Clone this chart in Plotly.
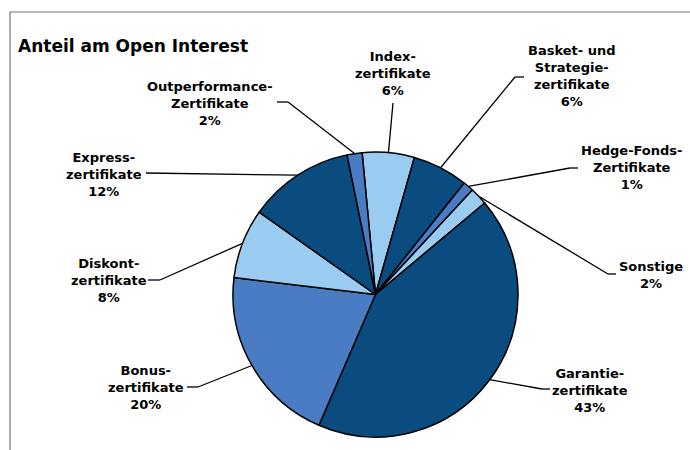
import math
import plotly.graph_objects as go

# ---- data ----
categories = [
    "Index-<br>zertifikate",
    "Basket- und<br>Strategie-<br>zertifikate",
    "Hedge-Fonds-<br>Zertifikate",
    "Sonstige",
    "Garantie-<br>zertifikate",
    "Bonus-<br>zertifikate",
    "Diskont-<br>zertifikate",
    "Express-<br>zertifikate",
    "Outperformance-<br>Zertifikate",
]
shares = [5.9, 6.3, 1.2, 2.0, 42.6, 20.4, 7.9, 12.0, 1.7]
title_text = "Anteil am Open Interest"

# ---- styling / layout constants ----
W, H = 690, 450
DARK, MID, LIGHT = "#0B4C80", "#4A7CC4", "#99CCF0"
colors = [LIGHT, DARK, MID, LIGHT, DARK, MID, LIGHT, DARK, MID]
CX, CY, R = 375.5, 294.5, 142.5          # pie centre / radius in pixels
ROTATION = -5.4
FONT = "DejaVu Sans"

# label block centres (px) and leader start / elbow points (px)
label_pos = [
    (393, 73), (571, 76), (632, 168), (651, 275), (590, 390),
    (146, 387), (109, 280), (104, 174), (210, 103),
]
leader_start = [
    (393, 103), (524, 77), (578, 168), (616, 274), (550, 389),
    (187, 387), (148, 280), (146, 173), (277, 102),
]
leader_elbow = [
    None, (515, 77), (570, 168), (608, 274), (542, 389),
    (198, 387), (160, 280), None, (288, 102),
]


def px(x):
    return x / W


def py(y):
    return 1 - y / H


fig = go.Figure()
fig.add_trace(go.Pie(
    values=shares,
    labels=[c.replace("<br>", " ") for c in categories],
    sort=False,
    direction="clockwise",
    rotation=ROTATION,
    marker=dict(colors=colors, line=dict(color="black", width=1.5)),
    textinfo="none",
    hoverinfo="label+percent",
    showlegend=False,
    domain=dict(x=[px(CX - R), px(CX + R)], y=[py(CY + R), py(CY - R)]),
))

shapes = []
annotations = []
total = sum(shares)
cum = 0.0
for i, v in enumerate(shares):
    mid = math.radians(ROTATION + (cum + v / 2) / total * 360)
    cum += v
    ex, ey = CX + R * math.sin(mid), CY - R * math.cos(mid)
    pts = [leader_start[i]]
    if leader_elbow[i] is not None:
        pts.append(leader_elbow[i])
    pts.append((ex, ey))
    for (x0, y0), (x1, y1) in zip(pts[:-1], pts[1:]):
        shapes.append(dict(type="line", xref="paper", yref="paper",
                           x0=px(x0), y0=py(y0), x1=px(x1), y1=py(y1),
                           line=dict(color="black", width=1.3), layer="below"))
    lx, ly = label_pos[i]
    annotations.append(dict(
        text="<b>%s<br>%d%%</b>" % (categories[i], round(v)),
        x=px(lx), y=py(ly), xref="paper", yref="paper",
        xanchor="center", yanchor="middle", align="center", showarrow=False,
        font=dict(family=FONT, size=13, color="black"),
    ))

annotations.append(dict(
    text="<b>%s</b>" % title_text, x=px(16), y=py(46), xref="paper", yref="paper",
    xanchor="left", yanchor="middle", showarrow=False,
    font=dict(family=FONT, size=17, color="black"),
))

# outer frame
shapes.append(dict(type="rect", xref="paper", yref="paper",
                   x0=px(10), y0=py(470), x1=px(720), y1=py(12),
                   line=dict(color="#777777", width=1.2)))

fig.update_layout(
    width=W, height=H,
    margin=dict(l=0, r=0, t=0, b=0),
    paper_bgcolor="white", plot_bgcolor="white",
    shapes=shapes, annotations=annotations,
)

fig.write_html("out.html", config={"displayModeBar": False},
               post_script="document.body.style.margin='0';document.body.style.overflow='hidden';")
